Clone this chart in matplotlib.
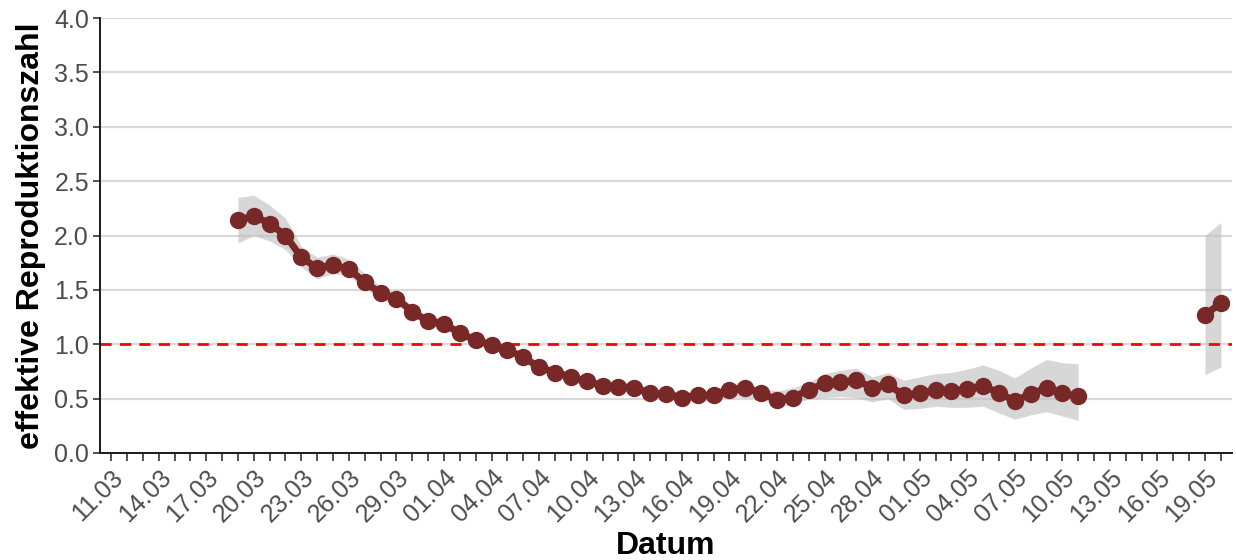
import numpy as np
import pandas as pd
import matplotlib
matplotlib.use("Agg")
import matplotlib.pyplot as plt

plt.rcParams["font.family"] = ["Liberation Sans", "DejaVu Sans"]

# daily estimates 19.03 - 11.05
dates_main = pd.date_range("2020-03-19", "2020-05-11", freq="D")
r_main = [2.14, 2.18, 2.11, 2.00, 1.80, 1.70, 1.73, 1.69, 1.57, 1.47,
          1.42, 1.30, 1.21,
          1.19, 1.10, 1.04, 0.99, 0.95, 0.88, 0.79, 0.74, 0.70, 0.66,
          0.62, 0.61, 0.60, 0.55, 0.54, 0.51, 0.53, 0.53, 0.58, 0.60,
          0.55, 0.49, 0.51, 0.58, 0.64, 0.65, 0.67, 0.60, 0.63, 0.53,
          0.55, 0.58, 0.57, 0.59, 0.62, 0.55, 0.48, 0.54, 0.60, 0.55, 0.52]
lo_main = [1.93, 2.00, 1.95, 1.87, 1.71, 1.60, 1.65, 1.63, 1.51, 1.42,
           1.37, 1.26, 1.17,
           1.15, 1.06, 1.00, 0.95, 0.91, 0.84, 0.75, 0.70, 0.66, 0.62,
           0.58, 0.57, 0.56, 0.51, 0.50, 0.47, 0.48, 0.48, 0.52, 0.51,
           0.50, 0.43, 0.44, 0.50, 0.51, 0.52, 0.51, 0.47, 0.50, 0.40,
           0.41, 0.43, 0.42, 0.42, 0.43, 0.37, 0.31, 0.35, 0.38, 0.34, 0.30]
hi_main = [2.35, 2.37, 2.28, 2.16, 1.90, 1.80, 1.83, 1.78, 1.65, 1.53,
           1.47, 1.35, 1.26,
           1.23, 1.14, 1.08, 1.03, 0.99, 0.92, 0.83, 0.78, 0.74, 0.70,
           0.66, 0.65, 0.64, 0.59, 0.58, 0.56, 0.57, 0.58, 0.64, 0.65,
           0.60, 0.57, 0.60, 0.65, 0.73, 0.76, 0.78, 0.70, 0.74, 0.67,
           0.70, 0.73, 0.74, 0.77, 0.81, 0.76, 0.69, 0.78, 0.86, 0.83, 0.82]

# late estimates 19.05 - 20.05
dates_late = pd.date_range("2020-05-19", "2020-05-20", freq="D")
r_late = [1.27, 1.38]
lo_late = [0.72, 0.79]
hi_late = [2.00, 2.12]

tick_start = pd.Timestamp("2020-03-11")
tick_end = pd.Timestamp("2020-05-20")

line_col = "#792828"
fig = plt.figure(figsize=(12.36, 5.6), dpi=100)
ax = fig.add_axes([100 / 1236, 1 - 453 / 560, 1132 / 1236, 435 / 560])

for d, r, lo, hi in [(dates_main, r_main, lo_main, hi_main),
                     (dates_late, r_late, lo_late, hi_late)]:
    ax.fill_between(d, lo, hi, color="#bdbdbd", alpha=0.6, lw=0, zorder=2)
    ax.plot(d, r, color=line_col, lw=5, marker="o", ms=11.5,
            solid_capstyle="round", zorder=3)

ax.axhline(1.0, color="#ff0000", ls=(0, (4, 3)), lw=2, zorder=2.5)

ax.set_ylim(0, 4)
ax.set_yticks(np.arange(0, 4.01, 0.5))
ax.set_yticklabels([f"{v:.1f}" for v in np.arange(0, 4.01, 0.5)])
pad = pd.Timedelta(days=0.7)
ax.set_xlim(tick_start - pad, tick_end + pad)

all_days = pd.date_range(tick_start, tick_end, freq="D")
major = all_days[::3]
ax.set_xticks(major)
ax.set_xticklabels([d.strftime("%d.%m") for d in major], rotation=45,
                   ha="right", rotation_mode="anchor")
ax.set_xticks(all_days, minor=True)

ax.grid(axis="y", color="#d9d9d9", lw=1.6, zorder=0)
ax.set_axisbelow(True)
for s in ["top", "right"]:
    ax.spines[s].set_visible(False)
for s in ["left", "bottom"]:
    ax.spines[s].set_linewidth(1.4)
    ax.spines[s].set_color("#1a1a1a")

ax.tick_params(axis="both", which="both", colors="#333333", width=1.2, length=5)
ax.tick_params(axis="both", labelsize=18, labelcolor="#4d4d4d")
ax.tick_params(axis="y", pad=3)
ax.tick_params(axis="x", which="both", length=6, pad=3)

ax.set_xlabel("Datum", fontsize=23, fontweight="bold", labelpad=3)
ax.set_ylabel("effektive Reproduktionszahl", fontsize=23, fontweight="bold",
              labelpad=6)

fig.savefig("out.png", dpi=100)
